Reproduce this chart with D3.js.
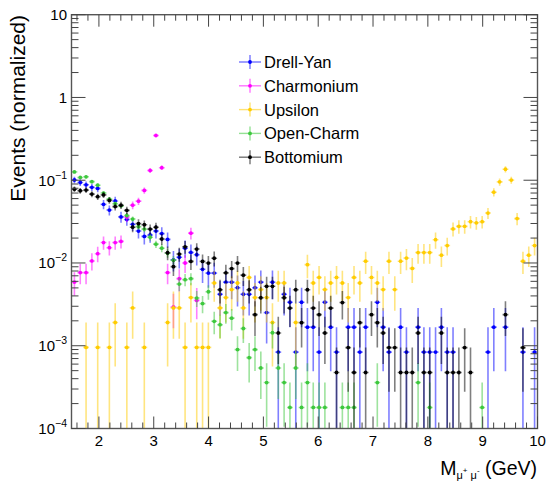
<!DOCTYPE html>
<html lang="en">
<head>
<meta charset="UTF-8">
<title>Dimuon invariant mass</title>
<script src="https://d3js.org/d3.v7.min.js"></script>
<style>
  body { margin: 0; background: #fff; }
  svg text { font-family: "Liberation Sans", Arial, Helvetica, sans-serif; fill: #000; }
</style>
</head>
<body>
<div id="chart"></div>
<script>
// histogram binning: 80 bins between 1.5 and 10 GeV
const xMin = 1.5, xMax = 10, nBins = 80;

const seriesNames = ["Drell-Yan", "Charmonium", "Upsilon", "Open-Charm", "Bottomium"];
const seriesColors = ["#0000ff", "#ff00ff", "#ffcc00", "#3dc83d", "#000000"];
// total events used for the normalisation of each sample
const seriesTotals = [1193, 1700, 1047, 5570, 2105];

// event counts per bin
const drellYanCounts = [
  120, 112, 105, 98, 95, 61, 52, 67, 43, 40,
  35, 29, 25, 26, 29, 27, 23, 13, 14, 18,
  16, 15, 10, 9, 9, 5, 7, 7, 6, 5,
  5, 6, 7, 3, 7, 1, 5, 4, 1, 4,
  2, 2, 1, 4, 2, 1, 0, 2, 2, 1,
  2, 0, 4, 2, 1, 0, 2, 1, 0, 2,
  1, 1, 1, 2, 1, 1, 0, 0, 0, 0,
  0, 1, 2, 0, 2, 0, 0, 1, 0, 1];
const charmoniumCounts = [
  10, 13, 13, 18, 22, 30, 26, 30, 31, 61,
  85, 95, 128, 223, 590, 241, 13, 5, 11, 17,
  39, 6, 0, 0, 0, 0, 0, 0, 0, 0,
  0, 0, 0, 0, 0, 0, 0, 0, 0, 0,
  0, 0, 0, 0, 0, 0, 0, 0, 0, 0,
  0, 0, 0, 0, 0, 0, 0, 0, 0, 0,
  0, 0, 0, 0, 0, 0, 0, 0, 0, 0,
  0, 0, 0, 0, 0, 0, 0, 0, 0, 0];
const upsilonCounts = [
  0, 0, 1, 0, 1, 0, 1, 2, 0, 1,
  3, 0, 1, 0, 0, 0, 2, 3, 3, 1,
  4, 1, 1, 1, 6, 3, 4, 5, 6, 3,
  7, 4, 5, 4, 2, 6, 6, 0, 2, 0,
  10, 6, 7, 5, 6, 7, 6, 4, 7, 6,
  11, 7, 6, 5, 11, 5, 11, 12, 9, 14,
  14, 14, 20, 13, 17, 27, 29, 29, 33, 32,
  33, 42, 75, 100, 142, 105, 36, 11, 13, 17];
const openCharmCounts = [
  702, 602, 613, 535, 485, 390, 329, 290, 273, 209,
  189, 153, 143, 114, 94, 84, 73, 60, 31, 35,
  36, 21, 18, 25, 11, 10, 14, 12, 5, 9,
  4, 5, 3, 2, 8, 3, 2, 1, 3, 1,
  2, 1, 1, 1, 0, 0, 1, 1, 1, 0,
  0, 0, 2, 0, 0, 0, 0, 0, 0, 2,
  0, 1, 0, 0, 0, 0, 0, 0, 0, 0,
  1, 0, 0, 0, 0, 0, 0, 0, 0, 0];
const bottomiumCounts = [
  164, 157, 160, 143, 133, 140, 120, 101, 105, 91,
  57, 63, 61, 54, 57, 41, 28, 19, 27, 33,
  22, 31, 22, 21, 24, 10, 16, 18, 21, 15,
  10, 5, 8, 11, 11, 3, 8, 6, 10, 4,
  10, 6, 5, 3, 6, 1, 7, 2, 1, 4,
  1, 5, 4, 3, 2, 2, 1, 1, 1, 3,
  1, 1, 0, 3, 1, 1, 1, 2, 1, 0,
  0, 0, 0, 0, 5, 0, 0, 2, 0, 0];

const allCounts = [drellYanCounts, charmoniumCounts, upsilonCounts, openCharmCounts, bottomiumCounts];

const xTickValues = [2, 3, 4, 5, 6, 7, 8, 9, 10];
const yDecades = [-4, -3, -2, -1, 0, 1];

var width = 548, height = 481;
var plot = { left: 71.5, right: 537.5, top: 14.7, bottom: 428.5 };

var svg = d3.select("#chart").append("svg")
  .attr("width", width)
  .attr("height", height);

var x = d3.scaleLinear().domain([xMin, xMax]).range([plot.left, plot.right]);
var y = d3.scaleLog().domain([1e-4, 10]).range([plot.bottom, plot.top]);
var binWidth = (xMax - xMin) / nBins;

svg.append("clipPath").attr("id", "clip")
  .append("rect")
  .attr("x", plot.left).attr("y", plot.top)
  .attr("width", plot.right - plot.left)
  .attr("height", plot.bottom - plot.top);

// turn counts into normalised points with poisson errors
function makePoints(counts, total) {
  var pts = [];
  counts.forEach(function (c, i) {
    if (c <= 0) return;
    var v = c / total, e = Math.sqrt(c) / total;
    pts.push({
      lo: xMin + i * binWidth,
      hi: xMin + (i + 1) * binWidth,
      xc: xMin + (i + 0.5) * binWidth,
      v: v,
      low: v - e,
      up: v + e
    });
  });
  return pts;
}

var plotG = svg.append("g").attr("clip-path", "url(#clip)");

allCounts.forEach(function (counts, s) {
  var pts = makePoints(counts, seriesTotals[s]);
  var col = seriesColors[s];
  var g = plotG.append("g").attr("class", "series");

  g.selectAll("line.ev")
    .data(pts).enter().append("line")
    .attr("class", "ev")
    .attr("x1", d => x(d.xc)).attr("x2", d => x(d.xc))
    .attr("y1", d => d.low > 1e-4 ? y(d.low) : plot.bottom + 2)
    .attr("y2", d => y(d.up))
    .attr("stroke", col).attr("stroke-opacity", 0.5).attr("stroke-width", 1.6);

  g.selectAll("line.eh")
    .data(pts).enter().append("line")
    .attr("class", "eh")
    .attr("x1", d => x(d.lo)).attr("x2", d => x(d.hi))
    .attr("y1", d => y(d.v)).attr("y2", d => y(d.v))
    .attr("stroke", col).attr("stroke-opacity", 0.5).attr("stroke-width", 1.6);

  g.selectAll("circle")
    .data(pts).enter().append("circle")
    .attr("cx", d => x(d.xc)).attr("cy", d => y(d.v))
    .attr("r", 1.9)
    .attr("fill", col);
});

// frame
svg.append("rect")
  .attr("x", plot.left).attr("y", plot.top)
  .attr("width", plot.right - plot.left)
  .attr("height", plot.bottom - plot.top)
  .attr("fill", "none").attr("stroke", "#555").attr("stroke-width", 1.4);

// ticks on all four sides
var ticks = svg.append("g").attr("stroke", "#444").attr("stroke-width", 1);
var xMinor = d3.range(16, 100, 2).map(k => k / 10).filter(v => Math.abs(v - Math.round(v)) > 1e-6);

function xTick(v, len) {
  ticks.append("line").attr("x1", x(v)).attr("x2", x(v)).attr("y1", plot.bottom).attr("y2", plot.bottom - len);
  ticks.append("line").attr("x1", x(v)).attr("x2", x(v)).attr("y1", plot.top).attr("y2", plot.top + len);
}
xTickValues.forEach(v => xTick(v, 12));
xMinor.forEach(v => xTick(v, 6));

function yTick(v, len) {
  ticks.append("line").attr("x1", plot.left).attr("x2", plot.left + len).attr("y1", y(v)).attr("y2", y(v));
  ticks.append("line").attr("x1", plot.right).attr("x2", plot.right - len).attr("y1", y(v)).attr("y2", y(v));
}
yDecades.forEach(function (d) {
  yTick(Math.pow(10, d), 14);
  if (d < 1) d3.range(2, 10).forEach(k => yTick(k * Math.pow(10, d), 7));
});

// x tick labels
svg.selectAll("text.xl")
  .data(xTickValues).enter().append("text")
  .attr("class", "xl")
  .attr("x", d => x(d)).attr("y", 446)
  .attr("text-anchor", "middle")
  .attr("font-size", 15)
  .text(d => d);

// y tick labels
yDecades.forEach(function (d) {
  var t = svg.append("text")
    .attr("x", 67).attr("y", y(Math.pow(10, d)) + 5.5)
    .attr("text-anchor", "end")
    .attr("font-size", 15);
  if (d === 1) t.text("10");
  else if (d === 0) t.text("1");
  else {
    t.append("tspan").text("10");
    t.append("tspan").attr("font-size", 10.5).attr("dy", -7).text("\u2212" + (-d));
  }
});

// axis titles
svg.append("text")
  .attr("transform", "translate(25,15) rotate(-90)")
  .attr("text-anchor", "end")
  .attr("font-size", 21)
  .text("Events (normalized)");

var xt = svg.append("text")
  .attr("x", 537).attr("y", 475)
  .attr("text-anchor", "end")
  .attr("font-size", 19.5);
xt.append("tspan").text("M");
xt.append("tspan").attr("font-size", 11).attr("dy", 4).text("\u03bc");
xt.append("tspan").attr("font-size", 8).attr("dy", -6).text("+");
xt.append("tspan").attr("font-size", 11).attr("dy", 6).text(" \u03bc");
xt.append("tspan").attr("font-size", 8).attr("dy", -6).text("-");
xt.append("tspan").attr("dy", 2).text(" (GeV)");

// legend
var legend = svg.append("g");
seriesNames.forEach(function (name, s) {
  var ly = 62 + s * 23.8;
  var col = seriesColors[s];
  legend.append("line").attr("x1", 239).attr("x2", 261).attr("y1", ly).attr("y2", ly)
    .attr("stroke", col).attr("stroke-opacity", 0.55).attr("stroke-width", 1.4);
  legend.append("line").attr("x1", 250).attr("x2", 250).attr("y1", ly - 7).attr("y2", ly + 7)
    .attr("stroke", col).attr("stroke-opacity", 0.55).attr("stroke-width", 1.4);
  legend.append("circle").attr("cx", 250).attr("cy", ly).attr("r", 1.9).attr("fill", col);
  legend.append("text").attr("x", 264).attr("y", ly + 6)
    .attr("font-size", 16.5).text(name);
});
</script>
</body>
</html>
